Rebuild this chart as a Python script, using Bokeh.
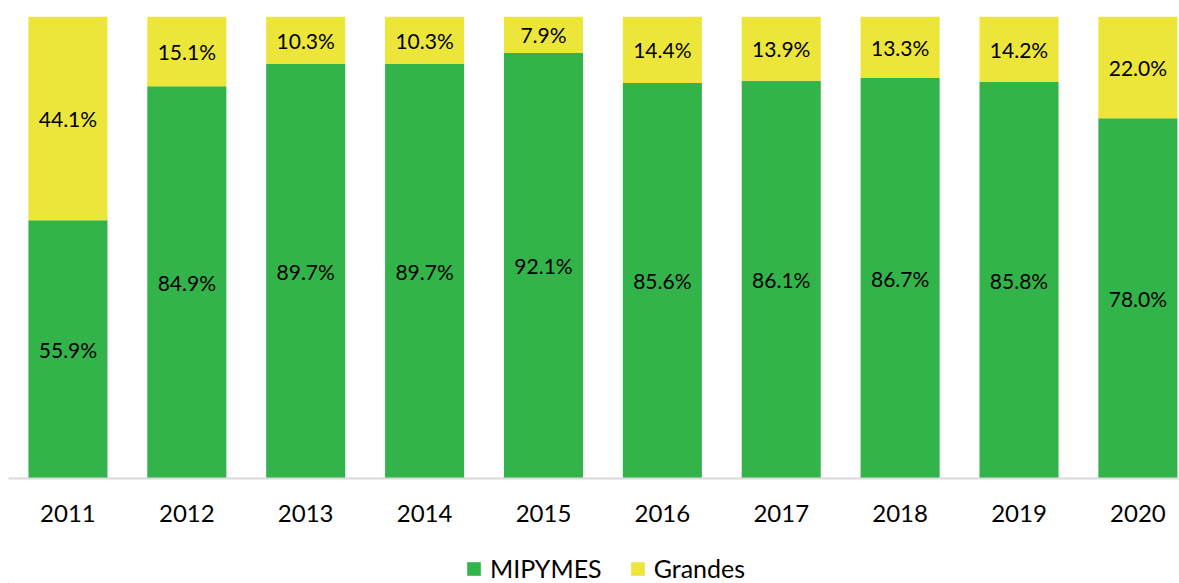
from bokeh.plotting import figure
from bokeh.layouts import column
from bokeh.models import ColumnDataSource, Range1d, FixedTicker, Legend, LegendItem
from bokeh.core.properties import value
from bokeh.embed import file_html
from bokeh.resources import INLINE

years = ["2011", "2012", "2013", "2014", "2015", "2016", "2017", "2018", "2019", "2020"]
mipymes = [55.9, 84.9, 89.7, 89.7, 92.1, 85.6, 86.1, 86.7, 85.8, 78.0]
grandes = [44.1, 15.1, 10.3, 10.3, 7.9, 14.4, 13.9, 13.3, 14.2, 22.0]
series_names = ["MIPYMES", "Grandes"]

GREEN = "#33B44A"
YELLOW = "#ECE63A"
FONT = "Lato"

xs = list(range(len(years)))
src = ColumnDataSource(dict(
    x=xs,
    m=[v / 100 for v in mipymes],
    g=[v / 100 for v in grandes],
    m_y=[v / 200 for v in mipymes],
    g_y=[(m + g / 2) / 100 for m, g in zip(mipymes, grandes)],
    m_t=[f"{v:.1f}%" for v in mipymes],
    g_t=[f"{v:.1f}%" for v in grandes],
))

p = figure(frame_width=1171, frame_height=462, output_backend="svg", toolbar_location=None,
           x_range=Range1d(-0.5, 9.35), y_range=Range1d(0, 1.0),
           y_axis_location=None, min_border_left=8, min_border_right=0,
           min_border_top=16, min_border_bottom=62, outline_line_color=None)
p.xgrid.visible = False
p.ygrid.visible = False

rs = p.vbar_stack(["m", "g"], x="x", width=0.665, source=src,
                  color=[GREEN, YELLOW], line_color=None)

p.text(x="x", y="m_y", text="m_t", source=src, text_align="center",
       text_baseline="middle", text_font=value(FONT), text_font_size="21px",
       text_color="#000000")
p.text(x="x", y="g_y", text="g_t", source=src, text_align="center",
       text_baseline="middle", text_font=value(FONT), text_font_size="21px",
       text_color="#000000")

ax = p.xaxis[0]
ax.ticker = FixedTicker(ticks=xs)
ax.major_label_overrides = {i: y for i, y in enumerate(years)}
ax.major_tick_line_color = None
ax.minor_tick_line_color = None
ax.axis_line_color = "#D9D9D9"
ax.axis_line_width = 2
ax.major_label_text_font = FONT
ax.major_label_text_font_size = "24px"
ax.major_label_text_color = "#000000"
ax.major_label_standoff = 20

# legend strip below the chart (swatch renderers sit outside the visible range)
lg = figure(width=1179, height=43, output_backend="svg", toolbar_location=None,
            x_range=Range1d(0, 1179), y_range=Range1d(0, 43),
            x_axis_location=None, y_axis_location=None,
            min_border_left=0, min_border_right=0, min_border_top=0,
            min_border_bottom=0, outline_line_color=None)
lg.xgrid.visible = False
lg.ygrid.visible = False
r_m = lg.vbar(x=[-1000], top=[1], width=1, color=GREEN, line_color=None)
r_g = lg.vbar(x=[-1000], top=[1], width=1, color=YELLOW, line_color=None)
legend = Legend(items=[LegendItem(label=series_names[0], renderers=[r_m]),
                       LegendItem(label=series_names[1], renderers=[r_g])],
                orientation="horizontal", location=(457, 0),
                label_text_font=FONT, label_text_font_size="25px",
                label_text_color="#000000", label_height=17,
                glyph_width=17, glyph_height=17, label_standoff=8,
                spacing=27, border_line_color=None, background_fill_alpha=0,
                padding=0, margin=0)
lg.add_layout(legend, "center")

open("out.html", "w").write(file_html(column(p, lg, spacing=0), INLINE))
